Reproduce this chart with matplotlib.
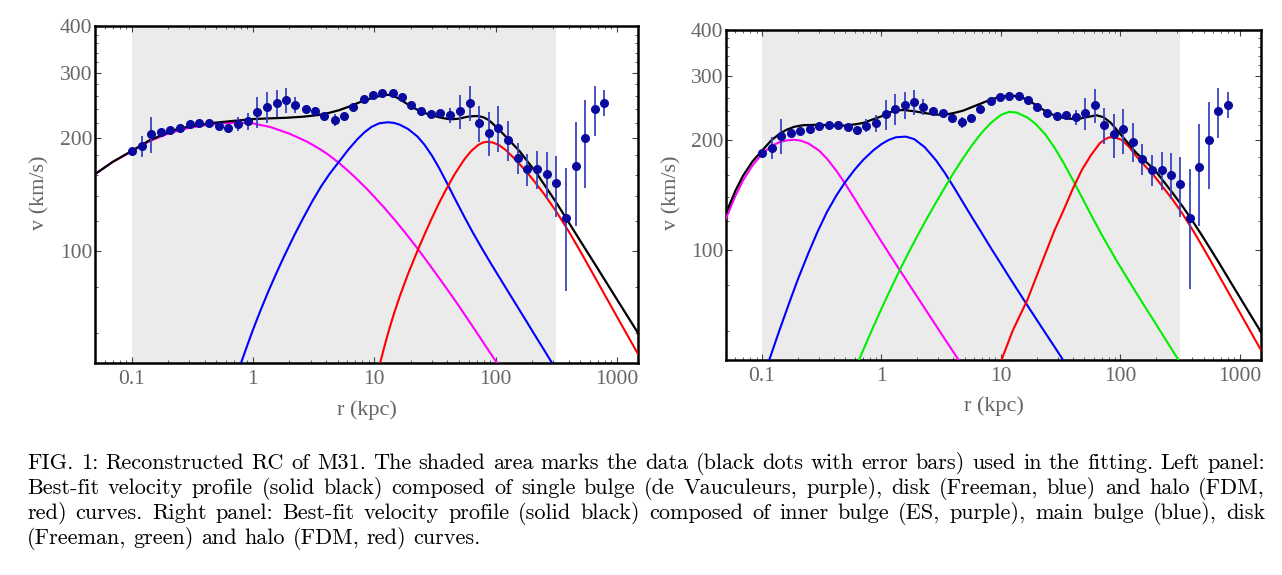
import matplotlib
matplotlib.use("Agg")
import matplotlib.pyplot as plt
from matplotlib.ticker import LogLocator, NullFormatter

# ---- observed rotation curve of M31 (same data in both panels) ----
r_obs = [0.101, 0.121, 0.144, 0.174, 0.208, 0.250, 0.302, 0.361, 0.431, 0.521,
         0.626, 0.748, 0.904, 1.085, 1.297, 1.568, 1.871, 2.212, 2.72, 3.245,
         3.87, 4.72, 5.62, 6.71, 8.18, 9.75, 11.64, 14.19, 16.9, 20.2,
         24.4, 29.3, 35.0, 42.3, 50.6, 61.0, 73.4, 87.7, 104.7, 126.5,
         152.1, 182.4, 220.8, 263.8, 316, 380, 457, 546, 659, 787]
v_obs = [184.8, 190.6, 205.2, 208.5, 211.1, 213.7, 218.3, 219.7, 219.7, 216.4,
         213.3, 219.1, 222.4, 235.5, 243.4, 249.5, 254.1, 246.0, 239.9, 237.0,
         229.4, 223.8, 229.7, 243.0, 255.3, 262.2, 264.5, 264.5, 258.0, 246.0,
         236.6, 232.7, 233.7, 230.8, 237.0, 249.3, 219.7, 207.2, 213.7, 198.1,
         177.6, 165.6, 165.6, 160.6, 151.6, 122.1, 168.8, 200.6, 239.9, 249.5]
v_err = [2, 12.7, 22.5, 2, 2, 2, 2, 2, 2, 3,
         4, 9.1, 12.0, 22.6, 23.7, 20.5, 19.5, 12.6, 5, 3,
         5, 8.1, 5, 3, 2, 2, 2, 2, 2, 2,
         2, 2, 3, 10.3, 24.4, 26.9, 24.3, 28.3, 30.1, 24.3,
         17.3, 16.3, 19.5, 23.1, 28.3, 44.0, 52.2, 53.7, 37.2, 20.3]
fit_range = (0.1, 312)  # shaded: data used in the fitting

# ---- left panel: single bulge + disk + halo ----
L_bulge_r = [0.05, 0.07, 0.1, 0.14, 0.2, 0.28, 0.4, 0.55, 0.75, 1.0, 1.4, 2.0,
             2.8, 3.6, 4.2, 5.0, 6.0, 7.0, 8.5, 10, 12, 15, 18.5, 23.6, 28,
             35, 42, 50, 60, 72, 85, 104.6]
L_bulge_v = [160.4, 173, 184.5, 196.5, 206, 212.5, 217, 219.6, 220.3, 219.5, 214.5, 206,
             196, 186.9, 180.7, 173.0, 164.4, 156.9, 147.5, 139.5, 130.7, 120.1, 110.4, 99.7, 92.4,
             83.6, 76.9, 70.9, 64.9, 59.4, 54.7, 49.5]
L_disk_r = [0.8, 0.9, 1.0, 1.15, 1.33, 1.55, 1.8, 2.2, 2.61, 3.1, 3.66, 4.3,
            5.15, 6.1, 7.23, 8.3, 9.5, 11, 12.9, 14.5, 16.2, 19, 22.7, 26,
            30, 34, 39.3, 46, 55.2, 65, 77.5, 92, 110, 130, 151.7, 180,
            210, 250, 293]
L_disk_v = [50, 55.7, 61.2, 68.8, 77.2, 86.5, 96.2, 110.1, 122.6, 135.9, 148.9, 160.9,
            173.5, 186.4, 198.7, 207.7, 214.8, 219.6, 221.0, 220.2, 217.8, 212.0, 202.4, 192.2,
            179.5, 167.3, 152.9, 138.2, 123.3, 111.7, 101.1, 92.0, 83.7, 76.6, 70.6, 64.5,
            59.4, 54.2, 49.8]
L_halo_r = [11.2, 12.3, 13.5, 14.8, 16.2, 19, 22.7, 26, 30, 34, 39.3, 46,
            55.2, 63, 71.8, 78, 84.5, 95, 108, 123, 140, 165, 200, 250,
            319, 400, 496, 640, 824, 1100, 1500]
L_halo_v = [50, 56.2, 62.6, 68.9, 75.2, 86.6, 99.8, 110.6, 122.6, 133.6, 146.3, 160.3,
            175.6, 185.1, 192.0, 194.8, 195.9, 195.0, 191.5, 185.4, 177.8, 167.9, 156.1, 142.1,
            126.7, 112.7, 99.9, 86.2, 74.4, 62.9, 52.6]
L_total_r = [0.05, 0.07, 0.1, 0.142, 0.2, 0.245, 0.35, 0.481, 0.7, 1.0,
             1.4, 1.87, 2.6, 3.42, 4.2, 5.15, 6.3, 7.74, 9.5, 11.45,
             13, 14.5, 16.2, 19.9, 24, 28.1, 35, 42.2, 50, 58.6,
             66, 71.8, 79.2, 87, 94.4, 105, 115.7, 135, 159, 185,
             218, 260, 319, 400, 496, 600, 700, 840, 996, 1220, 1500]
L_total_v = [160.4, 173, 185, 198, 207.5, 212.7, 217, 220.3, 223, 225.4,
             226.5, 227.2, 228.8, 231, 234, 238.2, 244, 250.8, 256.5, 260.8,
             262, 260, 255, 244.2, 236.5, 232, 227.5, 225, 226, 228.7,
             229.6, 229.6, 228, 224.5, 219.4, 212, 205.6, 195, 184.3, 172.8,
             161.2, 148, 134, 119.1, 106.5, 96.5, 89.1, 81.0, 74.1, 66.7, 59.9]

# ---- right panel: inner bulge + main bulge + disk + halo ----
R_inner_r = [0.05, 0.06, 0.0694, 0.083, 0.1, 0.12, 0.14, 0.16, 0.1855, 0.21, 0.2456,
             0.3, 0.349, 0.42, 0.495, 0.6, 0.704, 1.0, 1.37, 1.8, 2.32, 3.2, 4.46]
R_inner_v = [122.1, 140.8, 155.0, 170.1, 183.2, 192.5, 197.3, 199.4, 200.3, 199.3, 195.6,
             187.2, 178.0, 164.7, 152.2, 137.7, 126.5, 105.4, 89.8, 78.3, 69.0, 58.7, 49.8]
R_main_r = [0.115, 0.14, 0.1728, 0.2, 0.2456, 0.29, 0.349, 0.42, 0.495, 0.6,
            0.704, 0.85, 1.0, 1.15, 1.326, 1.6, 1.88, 2.3, 2.86, 3.4,
            4.05, 4.9, 5.8, 6.9, 8.23, 10, 11.7, 14, 16.6, 20,
            23.6, 28, 33.5]
R_main_v = [50, 60.3, 73.1, 83.2, 98.4, 111.7, 126.9, 141.1, 153.1, 166.3,
            176.5, 187.1, 194.9, 200.1, 203.5, 204.3, 201.1, 191.2, 176.0, 162.3,
            148.2, 133.6, 122.0, 111.3, 101.3, 91.6, 84.4, 77.0, 70.6, 64.3,
            59.2, 54.4, 49.7]
R_disk_r = [0.648, 0.8, 1.0, 1.2, 1.42, 1.7, 2.01, 2.4, 2.86, 3.4, 4.05,
            4.85, 5.78, 6.9, 8.23, 10, 11.7, 13.5, 16.6, 19.5, 23.6, 28,
            33.5, 40, 47.5, 56, 67.4, 80, 95, 113, 136, 165, 200,
            250, 304]
R_disk_v = [50, 58.7, 69.1, 78.5, 88.0, 98.9, 109.7, 122.0, 134.9, 148.6, 163.3,
            178.9, 194.4, 209.4, 222.7, 234.3, 238.7, 237.8, 230.5, 221.4, 206.8, 190.8,
            172.9, 155.4, 139.5, 125.8, 112.3, 101.7, 92.3, 84.1, 76.2, 68.9, 62.4,
            55.5, 50.2]
R_halo_r = [10.1, 12.5, 14.5, 16.6, 20, 23.6, 28, 33.5, 40, 47.6,
            57, 67.4, 74, 80.3, 90, 102, 118, 136, 162, 193,
            230, 274, 330, 400, 470, 555, 660, 800, 1100, 1500]
R_halo_v = [50, 60, 66.5, 72.9, 85.3, 98, 113, 128.7, 147.3, 165.8,
            182.4, 196.2, 200.7, 203.4, 203, 200.4, 191.5, 180.4, 169.3, 159,
            147.7, 137.2, 125.7, 113.8, 104.1, 94.7, 85.6, 76.6, 63.7, 53.2]
R_total_r = [0.05, 0.06, 0.0694, 0.083, 0.1, 0.12, 0.14, 0.16, 0.1855, 0.22,
             0.283, 0.33, 0.4, 0.495, 0.6, 0.704, 0.85, 1.0, 1.15, 1.326,
             1.55, 1.88, 2.3, 2.86, 3.4, 4.05, 4.8, 5.78, 6.9, 8.23,
             9.8, 11.7, 13.8, 16.6, 19.5, 23.6, 28, 33.5, 38, 44.3,
             52, 62.8, 72, 83.2, 95, 110, 136, 160, 193, 230,
             274, 330, 400, 470, 555, 660, 800, 1100, 1500]
R_total_v = [126.1, 145.4, 159.6, 174.5, 187, 199.7, 207.8, 213.2, 217.3, 219.5,
             220.1, 219.8, 219, 219, 220.7, 222.7, 227.8, 232.2, 237.5, 241.3,
             241.5, 239.7, 237, 234.7, 234.5, 237.2, 240.5, 246.4, 252.2, 258.1,
             262.5, 264.7, 263.5, 258.1, 249.5, 239.7, 233.5, 229.8, 228.7, 228.4,
             230.9, 233.7, 231, 222.7, 211.6, 200, 184.2, 175.4, 165.8, 154,
             143.1, 131.8, 120.2, 110.9, 101.7, 92.8, 83.6, 70.4, 59.6]

x_ticks = [0.1, 1, 10, 100, 1000]
x_ticklabels = ["0.1", "1", "10", "100", "1000"]
y_ticks = [100, 200, 300, 400]
y_ticklabels = ["100", "200", "300", "400"]
y_minor = [60, 80, 120, 140, 160, 180, 220, 240, 260, 280, 320, 340, 360, 380]

caption = [
    "FIG. 1: Reconstructed RC of M31. The shaded area marks the data (black dots with error bars) used in the fitting. Left panel:",
    "Best-fit velocity profile (solid black) composed of single bulge (de Vauculeurs, purple), disk (Freeman, blue) and halo (FDM,",
    "red) curves. Right panel: Best-fit velocity profile (solid black) composed of inner bulge (ES, purple), main bulge (blue), disk",
    "(Freeman, green) and halo (FDM, red) curves.",
]

W, H = 1282, 575
grey = "#666666"
tick_font = "Liberation Serif"

fig = plt.figure(figsize=(W / 100, H / 100), dpi=100)


def px_axes(x0, y0, x1, y1):
    # rectangle given in image pixels (top-left origin)
    return fig.add_axes([x0 / W, 1 - y1 / H, (x1 - x0) / W, (y1 - y0) / H])


def style(ax):
    ax.set_xscale("log")
    ax.set_yscale("log")
    ax.set_xlim(0.05, 1500)
    ax.set_ylim(50, 400)
    ax.set_xticks(x_ticks)
    ax.set_xticklabels(x_ticklabels)
    ax.xaxis.set_minor_locator(LogLocator(base=10, subs=range(2, 10), numticks=20))
    ax.xaxis.set_minor_formatter(NullFormatter())
    ax.set_yticks(y_ticks)
    ax.set_yticklabels(y_ticklabels)
    ax.set_yticks(y_minor, minor=True)
    ax.yaxis.set_minor_formatter(NullFormatter())
    ax.tick_params(which="both", direction="in", top=True, right=True,
                   color="#444444", labelcolor=grey, labelsize=15.5)
    ax.tick_params(which="major", length=4, width=0.8)
    ax.tick_params(which="minor", length=2.5, width=0.6)
    ax.tick_params(axis="x", pad=5)
    ax.tick_params(axis="y", pad=2)
    for lab in ax.get_xticklabels() + ax.get_yticklabels():
        lab.set_fontfamily(tick_font)
    for s in ax.spines.values():
        s.set_linewidth(1.8)
    ax.axvspan(fit_range[0], fit_range[1], color="#ebebeb", lw=0, zorder=0)


def data_points(ax):
    ax.errorbar(r_obs, v_obs, yerr=v_err, fmt="o", ms=5.5, color="#0a0a9e",
                ecolor="#3a44c4", elinewidth=1.3, capsize=0, zorder=6)


# left panel
axL = px_axes(95, 26.3, 638.3, 362.7)
style(axL)
axL.plot(L_bulge_r, L_bulge_v, color="#ff00ff", lw=1.5, zorder=3)
axL.plot(L_disk_r, L_disk_v, color="#0000ff", lw=1.5, zorder=3)
axL.plot(L_halo_r, L_halo_v, color="#ff0000", lw=1.5, zorder=3)
axL.plot(L_total_r, L_total_v, color="black", lw=1.6, zorder=4)
data_points(axL)

# right panel
axR = px_axes(726, 30, 1261, 360)
style(axR)
axR.plot(R_inner_r, R_inner_v, color="#ff00ff", lw=1.5, zorder=3)
axR.plot(R_main_r, R_main_v, color="#0000ff", lw=1.5, zorder=3)
axR.plot(R_disk_r, R_disk_v, color="#00ee00", lw=1.5, zorder=3)
axR.plot(R_halo_r, R_halo_v, color="#ff0000", lw=1.5, zorder=3)
axR.plot(R_total_r, R_total_v, color="black", lw=1.6, zorder=4)
data_points(axR)

# axis labels
lab = dict(family=tick_font, fontsize=16, color=grey, ha="center", va="center")
fig.text(40 / W, 1 - 193 / H, "v (km/s)", rotation=90, **lab)
fig.text(672 / W, 1 - 193 / H, "v (km/s)", rotation=90, **lab)
fig.text(366.5 / W, 1 - 410 / H, "r (kpc)", **lab)
fig.text(993.5 / W, 1 - 406 / H, "r (kpc)", **lab)

# justified caption, placed word by word
renderer = fig.canvas.get_renderer()
cap_size = 16
cap_kw = dict(family="cmr10", fontsize=cap_size, color="black", va="baseline", ha="left")
cap_left, cap_right = 27, 1265
space_w = 0.33 * cap_size * 100 / 72
for i, line in enumerate(caption):
    y = 1 - (469 + 25 * i) / H
    words = line.split(" ")
    texts = [fig.text(0, y, w, **cap_kw) for w in words]
    widths = [t.get_window_extent(renderer).width for t in texts]
    if i < len(caption) - 1:
        gap = (cap_right - cap_left - sum(widths)) / (len(words) - 1)
    else:
        gap = space_w
    x = cap_left
    for t, w in zip(texts, widths):
        t.set_x(x / W)
        x += w + gap

fig.savefig("out.png", dpi=100)
